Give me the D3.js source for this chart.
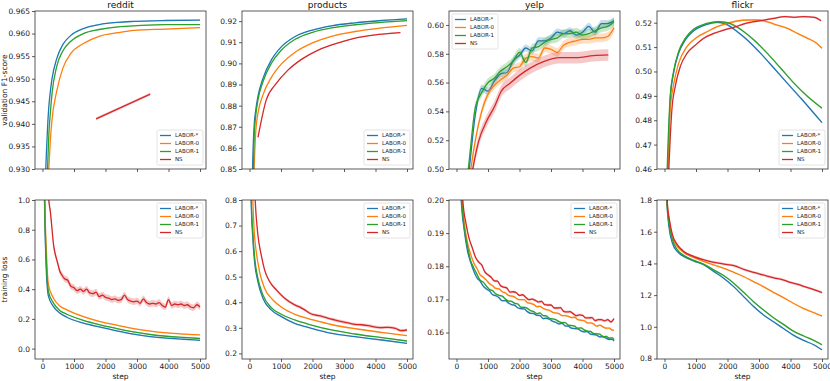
<!DOCTYPE html>
<html>
<head>
<meta charset="utf-8">
<script src="https://cdn.jsdelivr.net/npm/d3@7"></script>
<style>
body { margin: 0; background: #fff; }
svg { display: block; font-family: "DejaVu Sans", sans-serif; }
</style>
</head>
<body>
<svg id="chart" width="830" height="381"></svg>
<script>
// names and colours of the four runs, same order everywhere
const seriesNames = ["LABOR-*", "LABOR-0", "LABOR-1", "NS"];
const colors = ["#1f77b4", "#ff7f0e", "#2ca02c", "#d62728"];
const datasets = ["reddit", "products", "yelp", "flickr"];
const stepTicks = [0, 1000, 2000, 3000, 4000, 5000];

// ---- validation F1-score, [step, value] ----
const redditF1Star = [[50,0.915],[100,0.929],[160,0.939],[200,0.9437],[250,0.9472],[300,0.9499],[450,0.9544],[650,0.9576],[900,0.9596],[1300,0.9611],[1800,0.9620],[2400,0.9625],[2900,0.9627],[3900,0.9629],[5000,0.9630]];
const redditF1L0 = [[50,0.900],[100,0.912],[160,0.924],[200,0.930],[250,0.9365],[300,0.9408],[450,0.9472],[650,0.9524],[900,0.9556],[1300,0.9578],[1800,0.9594],[2400,0.9602],[2900,0.9607],[3900,0.9610],[5000,0.9613]];
const redditF1L1 = [[50,0.905],[100,0.918],[160,0.930],[200,0.9375],[250,0.9425],[300,0.9466],[450,0.9527],[650,0.9562],[900,0.9583],[1300,0.9600],[1800,0.9609],[2400,0.9615],[2900,0.9617],[3900,0.9620],[5000,0.9620]];
const redditF1NS = [[1700,0.9411],[3420,0.9466]];

const productsF1Star = [[50,0.800],[100,0.852],[150,0.871],[200,0.878],[270,0.8845],[430,0.8930],[700,0.9018],[1000,0.9077],[1450,0.9127],[2000,0.9158],[2600,0.9178],[3350,0.9192],[4200,0.9203],[5000,0.9211]];
const productsF1L0 = [[50,0.770],[100,0.820],[150,0.851],[200,0.868],[270,0.8765],[430,0.8852],[700,0.8935],[1000,0.8995],[1450,0.9053],[2000,0.9097],[2600,0.9128],[3350,0.9151],[4200,0.9168],[5000,0.9180]];
const productsF1L1 = [[50,0.790],[100,0.835],[150,0.866],[200,0.8755],[270,0.8828],[430,0.8914],[700,0.9002],[1000,0.9061],[1450,0.9114],[2000,0.9147],[2600,0.9168],[3350,0.9183],[4200,0.9194],[5000,0.9202]];
const productsF1NS = [[270,0.865],[530,0.8826],[850,0.8905],[1220,0.8968],[1650,0.9019],[2180,0.9063],[2820,0.9097],[3460,0.9123],[4100,0.9137],[4790,0.9146]];

const yelpF1Star = [[200,0.460],[400,0.499],[600,0.538],[800,0.556],[1000,0.554],[1200,0.561],[1400,0.566],[1600,0.567],[1800,0.575],[2000,0.579],[2200,0.584],[2400,0.582],[2600,0.589],[2800,0.589],[3000,0.591],[3200,0.595],[3400,0.594],[3600,0.596],[3800,0.593],[4000,0.595],[4200,0.599],[4400,0.595],[4600,0.601],[4800,0.601],[5000,0.603]];
const yelpF1L0 = [[200,0.440],[400,0.490],[600,0.520],[800,0.540],[1000,0.552],[1200,0.558],[1400,0.562],[1600,0.565],[1800,0.570],[2000,0.571],[2200,0.577],[2400,0.578],[2600,0.577],[2800,0.584],[3000,0.583],[3200,0.581],[3400,0.586],[3600,0.588],[3800,0.589],[4000,0.590],[4200,0.590],[4400,0.591],[4600,0.591],[4800,0.592],[5000,0.598]];
const yelpF1L1 = [[200,0.465],[400,0.505],[600,0.543],[800,0.553],[1000,0.560],[1200,0.563],[1400,0.568],[1600,0.571],[1800,0.575],[2000,0.581],[2200,0.574],[2400,0.584],[2600,0.585],[2800,0.588],[3000,0.590],[3200,0.591],[3400,0.594],[3600,0.594],[3800,0.595],[4000,0.593],[4200,0.594],[4400,0.596],[4600,0.598],[4800,0.599],[5000,0.602]];
const yelpF1NS = [[300,0.470],[500,0.498],[700,0.519],[950,0.533],[1200,0.543],[1420,0.554],[1700,0.5595],[2000,0.565],[2340,0.570],[2760,0.5745],[3280,0.5773],[3810,0.5773],[4340,0.5787],[4820,0.5792]];

const flickrF1Star = [[50,0.440],[106,0.460],[181,0.4883],[287,0.4992],[447,0.5074],[660,0.5129],[926,0.5167],[1191,0.5186],[1457,0.5197],[1670,0.5201],[1883,0.5197],[2096,0.5184],[2309,0.5163],[2628,0.5129],[3053,0.5074],[3479,0.5013],[3904,0.4951],[4330,0.4890],[4702,0.4835],[5000,0.4790]];
const flickrF1L0 = [[50,0.440],[106,0.460],[181,0.4842],[287,0.4944],[447,0.5033],[713,0.5102],[1032,0.5140],[1351,0.5163],[1670,0.5184],[1989,0.5197],[2309,0.5207],[2628,0.5211],[2947,0.5211],[3266,0.5203],[3585,0.5190],[3904,0.5177],[4223,0.5156],[4543,0.5136],[4809,0.5118],[5000,0.5095]];
const flickrF1L1 = [[40,0.440],[85,0.460],[181,0.4897],[287,0.4999],[447,0.5081],[660,0.5136],[926,0.5173],[1191,0.5190],[1457,0.5200],[1723,0.5204],[1989,0.5200],[2255,0.5186],[2521,0.5163],[2840,0.5129],[3266,0.5074],[3691,0.5013],[4117,0.4951],[4543,0.4897],[5000,0.4849]];
const flickrF1NS = [[80,0.440],[138,0.460],[234,0.4842],[340,0.4938],[500,0.5020],[713,0.5074],[979,0.5108],[1245,0.5136],[1564,0.5156],[1883,0.5170],[2202,0.5181],[2521,0.5195],[2840,0.5204],[3160,0.5211],[3479,0.5218],[3798,0.5225],[4117,0.5222],[4436,0.5225],[4755,0.5222],[4968,0.5208]];

// ---- training loss, [step, value] ----
const redditLossStar = [[40,1.4],[63,1.0],[116,0.55],[190,0.351],[349,0.283],[560,0.238],[772,0.211],[1300,0.171],[1829,0.144],[2357,0.119],[2886,0.097],[3414,0.081],[3943,0.070],[4471,0.063],[5000,0.056]];
const redditLossL0 = [[55,1.4],[75,1.0],[125,0.65],[190,0.429],[349,0.339],[560,0.285],[772,0.261],[1300,0.215],[1829,0.182],[2357,0.158],[2886,0.135],[3414,0.118],[3943,0.106],[4471,0.098],[5000,0.092]];
const redditLossL1 = [[50,1.4],[70,1.0],[120,0.60],[190,0.384],[349,0.306],[560,0.255],[772,0.231],[1300,0.190],[1829,0.160],[2357,0.135],[2886,0.112],[3414,0.095],[3943,0.083],[4471,0.075],[5000,0.068]];
const redditLossNS = [[150,1.2],[200,1.0],[250,0.92],[300,0.81],[350,0.70],[400,0.64],[450,0.60],[500,0.56],[550,0.52],[600,0.50],[700,0.47],[800,0.46],[900,0.42],[1000,0.41],[1100,0.39],[1200,0.40],[1300,0.385],[1400,0.40],[1500,0.375],[1600,0.37],[1700,0.38],[1800,0.35],[1900,0.36],[2000,0.345],[2100,0.34],[2200,0.33],[2300,0.335],[2400,0.325],[2500,0.33],[2600,0.36],[2700,0.33],[2800,0.32],[2900,0.315],[3000,0.32],[3100,0.305],[3200,0.335],[3300,0.31],[3400,0.30],[3500,0.305],[3600,0.30],[3700,0.31],[3800,0.29],[3900,0.28],[4000,0.33],[4100,0.29],[4200,0.30],[4300,0.295],[4400,0.30],[4500,0.29],[4600,0.295],[4700,0.28],[4800,0.275],[4900,0.295],[5000,0.28]];

const productsLossStar = [[30,1.0],[53,0.8],[100,0.66],[160,0.5595],[266,0.481],[426,0.4157],[691,0.370],[1011,0.3438],[1436,0.3176],[1968,0.298],[2606,0.2784],[3351,0.2654],[4202,0.2523],[5000,0.2392]];
const productsLossL0 = [[70,1.0],[106,0.8],[160,0.66],[213,0.5987],[319,0.520],[479,0.4549],[745,0.409],[1064,0.3765],[1489,0.3503],[2021,0.3307],[2660,0.311],[3404,0.2954],[4255,0.281],[5000,0.2693]];
const productsLossL1 = [[35,1.0],[58,0.8],[105,0.675],[160,0.579],[266,0.494],[426,0.4288],[691,0.379],[1011,0.353],[1436,0.3307],[1968,0.311],[2606,0.2915],[3351,0.2758],[4202,0.2614],[5000,0.2484]];
const productsLossNS = [[120,1.0],[180,0.8],[266,0.664],[372,0.5856],[479,0.5268],[638,0.481],[851,0.4484],[1117,0.4157],[1436,0.3895],[1600,0.381],[1755,0.370],[1900,0.358],[2074,0.3503],[2300,0.345],[2500,0.3373],[2700,0.331],[2926,0.3242],[3100,0.320],[3351,0.3137],[3550,0.312],[3777,0.3085],[4000,0.303],[4202,0.3007],[4400,0.302],[4628,0.298],[4800,0.289],[5000,0.2915]];

const yelpLossStar = [[120,0.2060],[150,0.2000],[250,0.1906],[350,0.1846],[450,0.1812],[550,0.1785],[650,0.1765],[750,0.1755],[850,0.1740],[950,0.1731],[1050,0.1725],[1150,0.1714],[1250,0.1711],[1350,0.1705],[1450,0.1696],[1550,0.1696],[1650,0.1689],[1750,0.1684],[1850,0.1682],[1950,0.1674],[2050,0.1672],[2150,0.1671],[2250,0.1663],[2350,0.1658],[2450,0.1657],[2550,0.1652],[2650,0.1651],[2750,0.1642],[2850,0.1643],[2950,0.1640],[3050,0.1634],[3150,0.1631],[3250,0.1626],[3350,0.1628],[3450,0.1620],[3550,0.1619],[3650,0.1613],[3750,0.1612],[3850,0.1611],[3950,0.1605],[4050,0.1602],[4150,0.1603],[4250,0.1595],[4350,0.1594],[4450,0.1592],[4550,0.1587],[4650,0.1588],[4750,0.1583],[4850,0.1579],[4950,0.1579],[5000,0.1574]];
const yelpLossL0 = [[150,0.2028],[250,0.1929],[350,0.1871],[450,0.1836],[550,0.1810],[650,0.1793],[750,0.1774],[850,0.1767],[950,0.1758],[1050,0.1747],[1150,0.1741],[1250,0.1733],[1350,0.1732],[1450,0.1723],[1550,0.1720],[1650,0.1712],[1750,0.1710],[1850,0.1707],[1950,0.1700],[2050,0.1699],[2150,0.1699],[2250,0.1690],[2350,0.1688],[2450,0.1685],[2550,0.1678],[2650,0.1679],[2750,0.1673],[2850,0.1669],[2950,0.1667],[3050,0.1661],[3150,0.1659],[3250,0.1657],[3350,0.1651],[3450,0.1651],[3550,0.1649],[3650,0.1645],[3750,0.1646],[3850,0.1639],[3950,0.1637],[4050,0.1636],[4150,0.1629],[4250,0.1629],[4350,0.1626],[4450,0.1619],[4550,0.1622],[4650,0.1617],[4750,0.1613],[4850,0.1613],[4950,0.1607],[5000,0.1607]];
const yelpLossL1 = [[130,0.2040],[150,0.2009],[250,0.1914],[350,0.1859],[450,0.1817],[550,0.1795],[650,0.1776],[750,0.1758],[850,0.1752],[950,0.1740],[1050,0.1730],[1150,0.1726],[1250,0.1716],[1350,0.1712],[1450,0.1710],[1550,0.1701],[1650,0.1695],[1750,0.1694],[1850,0.1688],[1950,0.1686],[2050,0.1676],[2150,0.1676],[2250,0.1673],[2350,0.1666],[2450,0.1663],[2550,0.1657],[2650,0.1659],[2750,0.1651],[2850,0.1650],[2950,0.1643],[3050,0.1641],[3150,0.1639],[3250,0.1633],[3350,0.1630],[3450,0.1630],[3550,0.1622],[3650,0.1621],[3750,0.1619],[3850,0.1613],[3950,0.1614],[4050,0.1608],[4150,0.1604],[4250,0.1603],[4350,0.1597],[4450,0.1596],[4550,0.1595],[4650,0.1587],[4750,0.1588],[4850,0.1583],[4950,0.1584],[5000,0.1578]];
const yelpLossNS = [[170,0.2050],[200,0.2000],[300,0.1930],[400,0.1884],[500,0.1856],[600,0.1828],[700,0.1813],[800,0.1804],[900,0.1783],[1000,0.1774],[1100,0.1767],[1200,0.1756],[1300,0.1755],[1400,0.1741],[1500,0.1737],[1600,0.1734],[1700,0.1722],[1800,0.1723],[1900,0.1720],[2000,0.1712],[2100,0.1714],[2200,0.1706],[2300,0.1699],[2400,0.1701],[2500,0.1697],[2600,0.1692],[2700,0.1694],[2800,0.1684],[2900,0.1683],[3000,0.1683],[3100,0.1674],[3200,0.1674],[3300,0.1675],[3400,0.1664],[3500,0.1662],[3600,0.1663],[3700,0.1657],[3800,0.1651],[3900,0.1653],[4000,0.1652],[4100,0.1644],[4200,0.1644],[4300,0.1645],[4400,0.1636],[4500,0.1639],[4600,0.1639],[4700,0.1635],[4800,0.1639],[4900,0.1632],[5000,0.1642]];

const flickrLossStar = [[50,1.95],[74,1.8],[148,1.622],[253,1.527],[411,1.474],[622,1.443],[939,1.415],[1255,1.390],[1572,1.348],[1888,1.305],[2205,1.252],[2521,1.189],[2838,1.126],[3154,1.073],[3471,1.030],[3787,0.988],[4103,0.946],[4420,0.914],[4736,0.887],[5000,0.855]];
const flickrLossL0 = [[60,1.95],[80,1.8],[148,1.665],[253,1.559],[411,1.506],[622,1.468],[939,1.436],[1255,1.411],[1572,1.390],[1888,1.369],[2205,1.343],[2521,1.316],[2838,1.284],[3154,1.252],[3471,1.216],[3787,1.183],[4103,1.147],[4420,1.115],[4736,1.090],[5000,1.068]];
const flickrLossL1 = [[50,1.95],[74,1.8],[148,1.644],[253,1.548],[411,1.485],[622,1.449],[939,1.419],[1255,1.394],[1572,1.358],[1888,1.322],[2205,1.274],[2521,1.216],[2838,1.157],[3154,1.104],[3471,1.056],[3787,1.014],[4103,0.971],[4420,0.942],[4736,0.914],[5000,0.887]];
const flickrLossNS = [[70,1.95],[95,1.770],[148,1.686],[253,1.580],[411,1.517],[622,1.474],[939,1.443],[1255,1.422],[1572,1.407],[1888,1.396],[2205,1.386],[2521,1.362],[2838,1.343],[3154,1.326],[3471,1.309],[3787,1.295],[3998,1.280],[4314,1.263],[4420,1.255],[4631,1.242],[5000,1.216]];

// half width of the shaded band around each run, per panel
const redditF1Band = [0.0001, 0.0001, 0.0001, 0.0003];
const productsF1Band = [0.0002, 0.0002, 0.0002, 0.0002];
const yelpF1Band = [0.0025, 0.003, 0.003, 0.004];
const flickrF1Band = [0.0004, 0.0004, 0.0004, 0.0004];
const redditLossBand = [0.004, 0.004, 0.004, 0.022];
const productsLossBand = [0.002, 0.002, 0.002, 0.006];
const yelpLossBand = [0.0003, 0.0003, 0.0003, 0.0004];
const flickrLossBand = [0.005, 0.005, 0.005, 0.008];

// y ticks
const redditF1Ticks = [0.930, 0.935, 0.940, 0.945, 0.950, 0.955, 0.960, 0.965];
const productsF1Ticks = [0.85, 0.86, 0.87, 0.88, 0.89, 0.90, 0.91, 0.92];
const yelpF1Ticks = [0.50, 0.52, 0.54, 0.56, 0.58, 0.60];
const flickrF1Ticks = [0.46, 0.47, 0.48, 0.49, 0.50, 0.51, 0.52];
const redditLossTicks = [0.0, 0.2, 0.4, 0.6, 0.8, 1.0];
const productsLossTicks = [0.2, 0.3, 0.4, 0.5, 0.6, 0.7, 0.8];
const yelpLossTicks = [0.16, 0.17, 0.18, 0.19, 0.20];
const flickrLossTicks = [0.8, 1.0, 1.2, 1.4, 1.6, 1.8];

const panels = [
  { row: 0, col: 0, title: "reddit", y: [0.930, 0.965], ticks: redditF1Ticks, fmt: ".3f",
    series: [redditF1Star, redditF1L0, redditF1L1, redditF1NS], band: redditF1Band, legend: "lower right" },
  { row: 0, col: 1, title: "products", y: [0.85, 0.9248], ticks: productsF1Ticks, fmt: ".2f",
    series: [productsF1Star, productsF1L0, productsF1L1, productsF1NS], band: productsF1Band, legend: "lower right" },
  { row: 0, col: 2, title: "yelp", y: [0.50, 0.6097], ticks: yelpF1Ticks, fmt: ".2f",
    series: [yelpF1Star, yelpF1L0, yelpF1L1, yelpF1NS], band: yelpF1Band, legend: "upper left" },
  { row: 0, col: 3, title: "flickr", y: [0.46, 0.5248], ticks: flickrF1Ticks, fmt: ".2f",
    series: [flickrF1Star, flickrF1L0, flickrF1L1, flickrF1NS], band: flickrF1Band, legend: "lower right" },
  { row: 1, col: 0, y: [-0.07, 1.0], ticks: redditLossTicks, fmt: ".1f",
    series: [redditLossStar, redditLossL0, redditLossL1, redditLossNS], band: redditLossBand, legend: "upper right" },
  { row: 1, col: 1, y: [0.178, 0.8], ticks: productsLossTicks, fmt: ".1f",
    series: [productsLossStar, productsLossL0, productsLossL1, productsLossNS], band: productsLossBand, legend: "upper right" },
  { row: 1, col: 2, y: [0.152, 0.20], ticks: yelpLossTicks, fmt: ".2f",
    series: [yelpLossStar, yelpLossL0, yelpLossL1, yelpLossNS], band: yelpLossBand, legend: "upper right" },
  { row: 1, col: 3, y: [0.797, 1.8], ticks: flickrLossTicks, fmt: ".1f",
    series: [flickrLossStar, flickrLossL0, flickrLossL1, flickrLossNS], band: flickrLossBand, legend: "upper right" }
];

const colX = [35, 242, 449, 657];
const rowY = [11, 200];
const rowH = [158, 159];
const panelW = 171;

const svg = d3.select("#chart");

panels.forEach(function(p, i) {
  const h = rowH[p.row];
  const x = d3.scaleLinear().domain([-238, 5190]).range([0, panelW]);
  const y = d3.scaleLinear().domain(p.y).range([h, 0]);

  const g = svg.append("g").attr("transform", `translate(${colX[p.col]},${rowY[p.row]})`);

  g.append("clipPath").attr("id", "clip" + i)
    .append("rect").attr("width", panelW).attr("height", h);

  const plot = g.append("g").attr("clip-path", `url(#clip${i})`);

  p.series.forEach(function(s, k) {
    const b = p.band[k];
    const area = d3.area()
      .x(d => x(d[0]))
      .y0(d => y(d[1] - b))
      .y1(d => y(d[1] + b))
      .curve(d3.curveMonotoneX);
    plot.append("path").datum(s)
      .attr("d", area)
      .attr("fill", colors[k])
      .attr("fill-opacity", 0.25);

    const line = d3.line()
      .x(d => x(d[0]))
      .y(d => y(d[1]))
      .curve(d3.curveMonotoneX);
    plot.append("path").datum(s)
      .attr("d", line)
      .attr("fill", "none")
      .attr("stroke", colors[k])
      .attr("stroke-width", 1.3);
  });

  // axes
  const yAxis = g.append("g")
    .call(d3.axisLeft(y).tickValues(p.ticks).tickFormat(d3.format(p.fmt)).tickSize(3).tickPadding(2));
  const xAxis = g.append("g").attr("transform", `translate(0,${h})`)
    .call(d3.axisBottom(x).tickValues(stepTicks).tickSize(3).tickPadding(2)
      .tickFormat(p.row === 1 ? d3.format("d") : ""));
  [yAxis, xAxis].forEach(function(a) {
    a.select(".domain").remove();
    a.selectAll("line").attr("stroke", "#333").attr("stroke-width", 0.8);
    a.selectAll("text").attr("fill", "#222").style("font-size", "7.5px").style("font-family", "DejaVu Sans");
  });

  g.append("rect")
    .attr("width", panelW).attr("height", h)
    .attr("fill", "none").attr("stroke", "#333").attr("stroke-width", 0.8);

  if (p.title) {
    g.append("text").attr("x", panelW / 2).attr("y", -3)
      .attr("text-anchor", "middle").style("font-size", "9px").attr("fill", "#111")
      .text(p.title);
  }
  if (p.row === 1) {
    g.append("text").attr("x", panelW / 2).attr("y", h + 20)
      .attr("text-anchor", "middle").style("font-size", "7.5px").attr("fill", "#111")
      .text("step");
  }

  // legend
  const lw = 46, lh = 35;
  let lx = p.legend.indexOf("right") >= 0 ? panelW - lw - 3 : 3;
  let ly = p.legend.indexOf("lower") >= 0 ? h - lh - 4 : 3;
  const leg = g.append("g").attr("transform", `translate(${lx},${ly})`);
  leg.append("rect").attr("width", lw).attr("height", lh).attr("rx", 1.5)
    .attr("fill", "#fff").attr("fill-opacity", 0.8)
    .attr("stroke", "#d0d0d0").attr("stroke-width", 0.6);
  seriesNames.forEach(function(name, k) {
    const ry = 5.5 + k * 8;
    leg.append("line").attr("x1", 3).attr("x2", 14).attr("y1", ry).attr("y2", ry)
      .attr("stroke", colors[k]).attr("stroke-width", 1.3);
    leg.append("text").attr("x", 18).attr("y", ry).attr("dy", "0.35em")
      .style("font-size", "5.5px").attr("fill", "#222").text(name);
  });
});

// shared y labels
svg.append("text").attr("transform", `translate(7,${rowY[0] + rowH[0] / 2}) rotate(-90)`)
  .attr("text-anchor", "middle").style("font-size", "7.5px").attr("fill", "#111")
  .text("validation F1-score");
svg.append("text").attr("transform", `translate(7,${rowY[1] + rowH[1] / 2}) rotate(-90)`)
  .attr("text-anchor", "middle").style("font-size", "7.5px").attr("fill", "#111")
  .text("training loss");
</script>
</body>
</html>
